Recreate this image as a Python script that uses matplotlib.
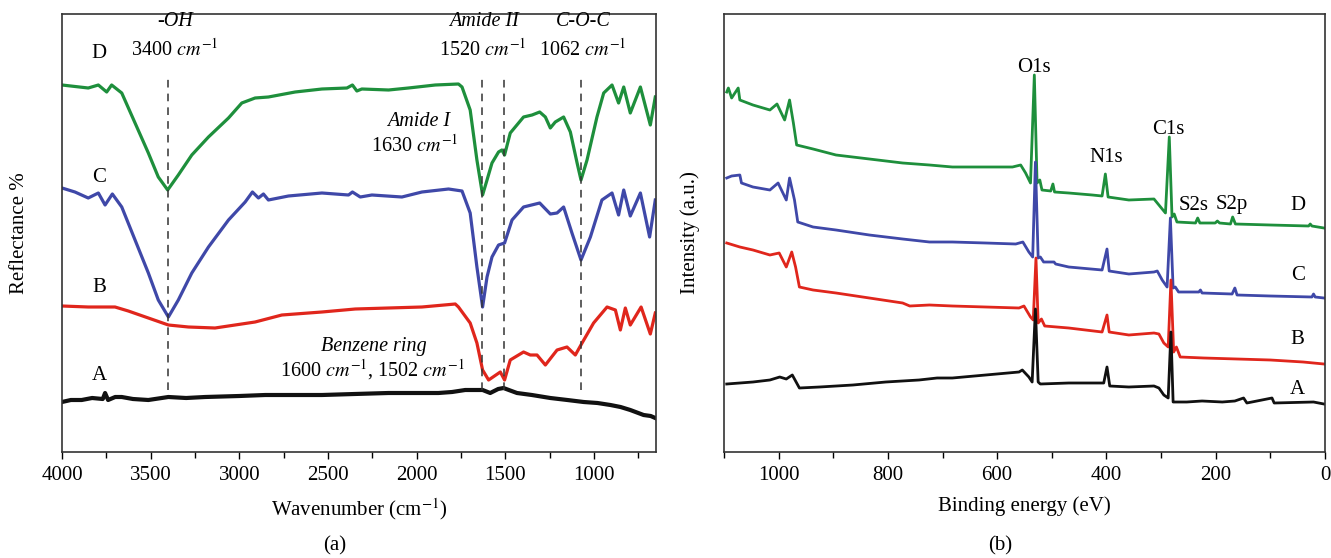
import numpy as np
import matplotlib.pyplot as plt

plt.rcParams['font.family'] = ['Liberation Serif', 'DejaVu Serif']
plt.rcParams['mathtext.fontset'] = 'stix'

GREEN = '#1e8f3c'
BLUE = '#3f48a8'
RED = '#e0261c'
BLACK = '#111111'

# ---- FTIR spectra (wavenumber, offset reflectance in arbitrary units) ----
ftir_d_wn = [4000, 3852, 3795, 3748, 3720, 3663, 3588, 3513, 3457, 3404, 3344, 3268, 3174, 3061,
             2986, 2911, 2836, 2685, 2534, 2393, 2362, 2337, 2309, 2158, 2046, 1895, 1764, 1744,
             1698, 1660, 1628, 1603, 1575, 1538, 1519, 1504, 1472, 1397, 1349, 1306, 1274, 1246,
             1218, 1171, 1133, 1095, 1073, 1039, 983, 945, 898, 861, 832, 795, 738, 682, 654]
ftir_d = [367, 364, 367, 360, 367, 359, 329, 299, 275, 262, 277, 297, 315, 334,
          349, 354, 355, 360, 363, 364, 367, 361, 363, 362, 364, 367, 368, 365,
          342, 292, 257, 272, 289, 300, 302, 297, 319, 335, 337, 340, 335, 324,
          330, 335, 320, 289, 272, 292, 335, 359, 367, 349, 365, 339, 365, 327, 355]

ftir_c_wn = [4000, 3927, 3852, 3795, 3757, 3716, 3663, 3588, 3513, 3457, 3400, 3344, 3268, 3174,
             3061, 2967, 2926, 2892, 2864, 2836, 2723, 2534, 2384, 2362, 2318, 2252, 2083, 1970,
             1820, 1744, 1698, 1660, 1628, 1603, 1575, 1538, 1504, 1462, 1397, 1306, 1246, 1208,
             1171, 1124, 1073, 1020, 955, 898, 861, 832, 795, 738, 686, 654]
ftir_c = [264, 260, 254, 259, 247, 258, 245, 212, 179, 152, 135, 152, 179, 205,
          232, 250, 260, 254, 258, 252, 256, 259, 257, 260, 255, 257, 255, 260,
          263, 261, 239, 185, 145, 175, 195, 207, 209, 232, 245, 249, 238, 239,
          245, 219, 192, 215, 252, 259, 237, 262, 236, 259, 215, 252]

ftir_b_wn = [4000, 3852, 3701, 3626, 3513, 3400, 3287, 3137, 3024, 2911, 2760, 2534, 2346, 2159,
             1970, 1782, 1764, 1698, 1660, 1628, 1594, 1528, 1504, 1472, 1444, 1397, 1359, 1321,
             1274, 1208, 1152, 1105, 1067, 1002, 926, 879, 851, 823, 795, 734, 682, 654]
ftir_b = [146, 145, 145, 141, 134, 127, 125, 124, 127, 130, 137, 140, 143, 144,
          145, 148, 145, 129, 109, 82, 72, 80, 72, 92, 95, 100, 97, 97,
          87, 102, 105, 97, 109, 129, 145, 142, 122, 144, 127, 145, 118, 139]

ftir_a_wn = [4000, 3950, 3889, 3830, 3770, 3757, 3740, 3700, 3663, 3600, 3513, 3400, 3300, 3193,
             3000, 2854, 2700, 2534, 2350, 2159, 2000, 1877, 1800, 1726, 1628, 1585, 1540, 1510,
             1480, 1434, 1350, 1246, 1150, 1058, 980, 907, 850, 795, 720, 680, 654]
ftir_a = [50, 52, 52, 54, 53, 59, 52, 55, 55, 53, 52, 55, 54, 55,
          56, 57, 57, 57, 58, 59, 59, 59, 60, 62, 62, 59, 63, 64,
          62, 59, 57, 54, 52, 50, 49, 47, 45, 42, 37, 36, 34]

ftir_marks = [3400, 1630, 1505, 1072]

# ---- XPS survey spectra (binding energy, offset intensity in arbitrary units) ----
xps_d_ev = [1095, 1092, 1086, 1074, 1071, 1047, 1016, 1003, 989, 980, 973, 967, 937, 895, 834,
            773, 724, 682, 621, 572, 557, 548, 539, 532, 527, 522, 518, 502, 498, 495, 469, 426,
            408, 402, 397, 359, 313, 301, 292, 285, 280, 276, 271, 237, 233, 229, 201, 197, 193,
            173, 169, 164, 100, 30, 27, 24, 2]
xps_d = [360, 364, 354, 364, 352, 347, 342, 348, 332, 352, 329, 307, 303, 297, 293,
         289, 287, 285, 285, 285, 287, 279, 269, 377, 269, 272, 262, 261, 268, 260, 259, 257,
         256, 278, 255, 252, 253, 245, 239, 315, 235, 238, 230, 229, 234, 229, 229, 231, 229,
         228, 235, 228, 227, 226, 228, 226, 224]

xps_c_ev = [1095, 1086, 1071, 1068, 1047, 1016, 1001, 986, 980, 971, 965, 937, 895, 834, 773,
            724, 682, 621, 566, 553, 542, 535, 530, 525, 521, 515, 496, 493, 469, 408, 399, 395,
            359, 313, 307, 298, 289, 283, 278, 274, 268, 231, 228, 225, 170, 165, 161, 100, 24,
            21, 18, 2]
xps_c = [274, 276, 277, 269, 265, 262, 269, 252, 274, 252, 230, 225, 222, 217, 213,
         210, 210, 209, 208, 210, 200, 195, 290, 194, 195, 190, 190, 188, 185, 182, 203, 181,
         178, 180, 181, 172, 165, 234, 164, 165, 160, 160, 162, 159, 158, 164, 157, 156, 155,
         158, 155, 154]

xps_b_ev = [1095, 1071, 1047, 1016, 999, 986, 976, 969, 962, 937, 895, 834, 773, 760, 724, 682,
            621, 560, 551, 539, 534, 529, 525, 519, 513, 469, 408, 399, 395, 359, 313, 304, 295,
            287, 282, 277, 272, 265, 222, 161, 100, 40, 2]
xps_b = [209, 205, 202, 197, 199, 185, 200, 185, 165, 162, 159, 154, 149, 146, 147, 146,
         145, 144, 146, 135, 132, 194, 129, 133, 126, 124, 120, 137, 120, 117, 119, 118, 109,
         105, 172, 100, 105, 95, 94, 93, 92, 90, 88]

xps_a_ev = [1095, 1047, 1016, 998, 986, 975, 962, 925, 864, 804, 743, 710, 682, 621, 560, 554,
            542, 536, 530, 525, 521, 469, 405, 399, 394, 359, 313, 304, 295, 287, 282, 278, 253,
            225, 188, 165, 149, 143, 97, 93, 21, 2]
xps_a = [68, 70, 72, 75, 73, 77, 64, 65, 67, 70, 72, 74, 74, 77, 80, 82,
         75, 70, 143, 70, 68, 69, 69, 85, 66, 65, 66, 64, 57, 54, 120, 50, 50,
         51, 50, 51, 54, 49, 54, 49, 50, 48]

fig = plt.figure(figsize=(13.31, 5.58), dpi=100)
ax1 = fig.add_axes([62 / 1331, 106 / 558, 594 / 1331, 438 / 558])
ax2 = fig.add_axes([724 / 1331, 106 / 558, 601 / 1331, 438 / 558])

# panel (a): FTIR
ax1.plot(ftir_d_wn, ftir_d, color=GREEN, lw=2.3)
ax1.plot(ftir_c_wn, ftir_c, color=BLUE, lw=2.3)
ax1.plot(ftir_b_wn, ftir_b, color=RED, lw=2.3)
ax1.plot(ftir_a_wn, ftir_a, color=BLACK, lw=3.0)
ax1.vlines(ftir_marks, 62, 377, colors='#333333', linestyles=(0, (5, 4)), lw=1.1)
ax1.set_xlim(4000, 650)
ax1.set_ylim(0, 438)
ax1.set_xticks([4000, 3500, 3000, 2500, 2000, 1500, 1000])
ax1.set_xticks(np.arange(3750, 650, -500), minor=True)

for lab, y in [('D', 399), ('C', 274), ('B', 164), ('A', 77)]:
    ax1.text(3790, y, lab, fontsize=15, ha='center', va='center')

it = dict(fontsize=14.5, ha='center', va='center')
ax1.text(3362, 430, '-OH', style='italic', **it)
ax1.text(3362, 402, r'3400 $cm^{-1}$', **it)
ax1.text(1618, 430, 'Amide II', style='italic', **it)
ax1.text(1630, 402, r'1520 $cm^{-1}$', **it)
ax1.text(1060, 430, 'C-O-C', style='italic', **it)
ax1.text(1066, 402, r'1062 $cm^{-1}$', **it)
ax1.text(1991, 330, 'Amide I', style='italic', **it)
ax1.text(2013, 306, r'1630 $cm^{-1}$', **it)
ax1.text(2240, 105, 'Benzene ring', style='italic', **it)
ax1.text(2250, 82, r'1600 $cm^{-1}$, 1502 $cm^{-1}$', **it)
ax1.set_xlabel('Wavenumber (cm$^{-1}$)', fontsize=15, labelpad=8)

# panel (b): XPS
ax2.plot(xps_d_ev, xps_d, color=GREEN, lw=2.0)
ax2.plot(xps_c_ev, xps_c, color=BLUE, lw=2.0)
ax2.plot(xps_b_ev, xps_b, color=RED, lw=2.0)
ax2.plot(xps_a_ev, xps_a, color=BLACK, lw=2.0)
ax2.set_xlim(1100, 0)
ax2.set_ylim(0, 438)
ax2.set_xticks([1000, 800, 600, 400, 200, 0])
ax2.set_xticks(np.arange(1100, -1, -100), minor=True)

for lab, x, y in [('O1s', 532, 385), ('N1s', 400, 294), ('C1s', 287, 322),
                  ('S2s', 240, 247), ('S2p', 170, 247)]:
    ax2.text(x, y, lab, fontsize=15, ha='center', va='center')
for lab, y in [('D', 247), ('C', 177), ('B', 113), ('A', 62)]:
    ax2.text(50, y, lab, fontsize=15, ha='center', va='center')
ax2.set_xlabel('Binding energy (eV)', fontsize=15, labelpad=8)

for ax in (ax1, ax2):
    ax.set_yticks([])
    ax.tick_params(axis='x', which='major', direction='out', length=5, width=1, labelsize=15, pad=5)
    ax.tick_params(axis='x', which='minor', direction='out', length=4, width=1)
    for s in ax.spines.values():
        s.set_linewidth(1.2)
        s.set_color('#333333')

fig.text(20 / 1331, 1 - 233 / 558, 'Reflectance %', rotation=90, fontsize=15, ha='center', va='center')
fig.text(690 / 1331, 1 - 233 / 558, 'Intensity (a.u.)', rotation=90, fontsize=15, ha='center', va='center')
fig.text(335 / 1331, 1 - 546 / 558, '(a)', fontsize=15, ha='center', va='center')
fig.text(1000 / 1331, 1 - 546 / 558, '(b)', fontsize=15, ha='center', va='center')

fig.savefig('out.png', dpi=100)
